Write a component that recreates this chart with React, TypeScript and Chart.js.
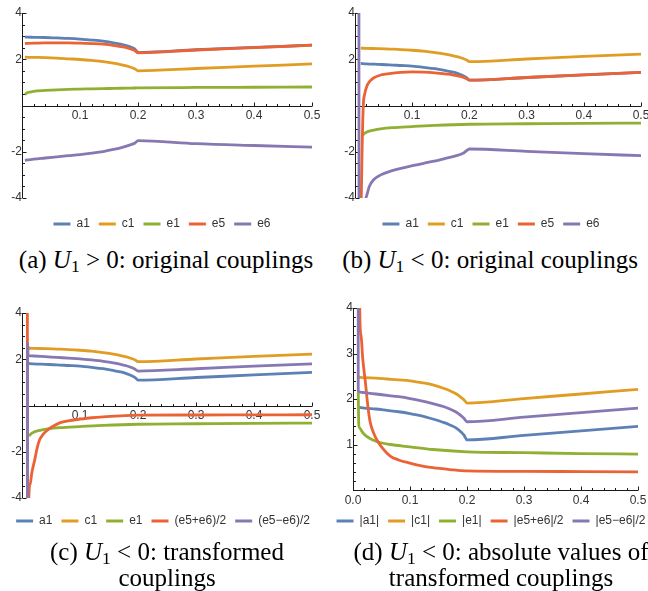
import React, { useEffect, useRef } from 'react';
import { Chart, registerables } from 'chart.js';

Chart.register(...registerables);

// ---------- data ----------
const X_TICKS = [0.1, 0.2, 0.3, 0.4, 0.5];
const X_TICKS_D = [0, 0.1, 0.2, 0.3, 0.4, 0.5];
const Y_TICKS = [-4, -2, 2, 4];
const Y_TICKS_D = [1, 2, 3, 4];

// (a) U1 > 0
const A_X = [0.005, 0.01, 0.02, 0.04, 0.06, 0.08, 0.1, 0.12, 0.14, 0.16, 0.17, 0.18, 0.19, 0.195, 0.2, 0.3, 0.4, 0.5];
const A_A1 = [2.96, 2.955, 2.95, 2.94, 2.92, 2.9, 2.87, 2.83, 2.78, 2.7, 2.65, 2.59, 2.5, 2.43, 2.3, 2.41, 2.51, 2.61];
const A_C1 = [2.09, 2.085, 2.08, 2.07, 2.05, 2.02, 1.99, 1.95, 1.9, 1.82, 1.77, 1.71, 1.63, 1.58, 1.5, 1.6, 1.7, 1.8];
const A_E1 = [0.48, 0.56, 0.61, 0.65, 0.68, 0.7, 0.71, 0.72, 0.73, 0.74, 0.745, 0.75, 0.755, 0.757, 0.76, 0.78, 0.79, 0.8];
const A_E5 = [2.68, 2.69, 2.7, 2.71, 2.71, 2.71, 2.7, 2.68, 2.65, 2.59, 2.55, 2.5, 2.42, 2.37, 2.28, 2.4, 2.5, 2.61];
const A_E6 = [-2.37, -2.355, -2.32, -2.27, -2.22, -2.17, -2.12, -2.06, -1.99, -1.89, -1.83, -1.76, -1.67, -1.62, -1.52, -1.65, -1.73, -1.8];

// (b) U1 < 0
const B_X = [0.01, 0.02, 0.04, 0.06, 0.08, 0.1, 0.12, 0.14, 0.16, 0.17, 0.18, 0.19, 0.195, 0.2, 0.3, 0.4, 0.5];
const B_A1 = [1.82, 1.8, 1.78, 1.76, 1.73, 1.7, 1.65, 1.59, 1.5, 1.45, 1.38, 1.28, 1.21, 1.1, 1.21, 1.32, 1.43];
const B_C1 = [2.48, 2.47, 2.46, 2.44, 2.42, 2.39, 2.35, 2.29, 2.21, 2.16, 2.1, 2.02, 1.97, 1.9, 2.01, 2.12, 2.22];
const B_E1_X = [0.012, 0.015, 0.02, 0.025, 0.033, 0.045, 0.065, 0.1, 0.14, 0.2, 0.3, 0.4, 0.5];
const B_E1 = [-1.32, -1.24, -1.16, -1.11, -1.06, -1.01, -0.96, -0.91, -0.86, -0.81, -0.79, -0.77, -0.76];
const B_E5_X = [0.009, 0.011, 0.0125, 0.0145, 0.017, 0.0215, 0.026, 0.033, 0.045, 0.06, 0.08, 0.1, 0.12, 0.14, 0.16, 0.17, 0.18, 0.19, 0.195, 0.2, 0.3, 0.4, 0.5];
const B_E5 = [-10, -4, -1.8, 0, 0.5, 0.88, 1.05, 1.2, 1.32, 1.38, 1.43, 1.45, 1.44, 1.41, 1.36, 1.33, 1.28, 1.21, 1.16, 1.1, 1.21, 1.32, 1.43];
const B_E6_X = [0.0066, 0.0074, 0.013, 0.019, 0.025, 0.033, 0.045, 0.062, 0.08, 0.097, 0.12, 0.138, 0.16, 0.173, 0.19, 0.2, 0.3, 0.4, 0.5];
const B_E6 = [30, -30, -5.5, -4.0, -3.5, -3.2, -3.0, -2.84, -2.72, -2.62, -2.5, -2.41, -2.28, -2.2, -2.05, -1.88, -1.98, -2.08, -2.17];

// (c) transformed
const C_SUM_X = [0.009, 0.0098, 0.0118, 0.014, 0.017, 0.022, 0.026, 0.03, 0.036, 0.042, 0.05, 0.066, 0.08, 0.1, 0.12, 0.14, 0.17, 0.2, 0.3, 0.4, 0.5];
const C_SUM = [30, -30, -4.0, -3.4, -2.9, -2.34, -1.85, -1.5, -1.26, -1.1, -0.95, -0.74, -0.66, -0.59, -0.53, -0.49, -0.45, -0.42, -0.41, -0.405, -0.4];
const C_DIF_X = [0.009, 0.0097, 0.0105, 0.013, 0.02, 0.04, 0.06, 0.08, 0.1, 0.12, 0.14, 0.16, 0.17, 0.18, 0.19, 0.195, 0.2, 0.3, 0.4, 0.5];
const C_DIF = [-30, 2.7, 2.2, 2.15, 2.14, 2.11, 2.08, 2.05, 2.02, 1.97, 1.91, 1.83, 1.78, 1.72, 1.63, 1.57, 1.49, 1.59, 1.7, 1.8];

// (d) absolute values
const D_X = [0.01, 0.02, 0.04, 0.06, 0.08, 0.1, 0.12, 0.14, 0.16, 0.17, 0.18, 0.19, 0.195, 0.2, 0.3, 0.4, 0.5];
const D_A1 = [1.82, 1.8, 1.78, 1.75, 1.72, 1.68, 1.63, 1.56, 1.48, 1.43, 1.37, 1.27, 1.2, 1.1, 1.2, 1.3, 1.4];
const D_C1 = [2.48, 2.47, 2.46, 2.44, 2.42, 2.4, 2.36, 2.31, 2.23, 2.18, 2.12, 2.03, 1.98, 1.91, 2.01, 2.11, 2.21];
const D_E1_X = [0.0092, 0.0102, 0.012, 0.015, 0.02, 0.025, 0.033, 0.045, 0.065, 0.1, 0.14, 0.2, 0.3, 0.4, 0.5];
const D_E1 = [2.15, 1.42, 1.36, 1.3, 1.22, 1.17, 1.11, 1.05, 1.0, 0.95, 0.89, 0.84, 0.82, 0.8, 0.79];
const D_SUM_X = [0.0095, 0.0118, 0.014, 0.017, 0.022, 0.026, 0.03, 0.036, 0.042, 0.05, 0.066, 0.08, 0.1, 0.12, 0.14, 0.17, 0.2, 0.3, 0.4, 0.5];
const D_SUM = [30, 4.0, 3.4, 2.9, 2.34, 1.85, 1.5, 1.26, 1.1, 0.95, 0.74, 0.66, 0.59, 0.53, 0.49, 0.45, 0.42, 0.41, 0.405, 0.4];
const D_DIF_X = [0.0085, 0.0092, 0.0105, 0.013, 0.02, 0.04, 0.06, 0.08, 0.1, 0.12, 0.14, 0.16, 0.17, 0.18, 0.19, 0.195, 0.2, 0.3, 0.4, 0.5];
const D_DIF = [30, 2.18, 2.16, 2.15, 2.14, 2.11, 2.08, 2.05, 2.01, 1.96, 1.9, 1.83, 1.78, 1.72, 1.63, 1.57, 1.5, 1.6, 1.7, 1.8];

const LABELS_AB = ['a1', 'c1', 'e1', 'e5', 'e6'];
const LABELS_C = ['a1', 'c1', 'e1', '(e5+e6)/2', '(e5\u2212e6)/2'];
const LABELS_D = ['|a1|', '|c1|', '|e1|', '|e5+e6|/2', '|e5\u2212e6|/2'];

// ---------- styles ----------
const BLUE = '#5E81B5';
const ORANGE = '#E19C24';
const GREEN = '#8FB032';
const RED = '#EB6235';
const PURPLE = '#8778B3';
const SANS = "'Liberation Sans', Arial, sans-serif";
const SERIF = "'Liberation Serif', 'Times New Roman', serif";

type Series = { label: string; xs: number[]; ys: number[]; color: string };
type PanelCfg = {
  left: number; top: number; width: number; height: number;
  area: { left: number; top: number; right: number; bottom: number };
  yMin: number; yMax: number;
  xTicks: number[]; yTicks: number[];
  yMinor: number; yMajor: number;
  series: Series[];
  legendOffset: number; // distance from chart bottom to legend centre
  legendShift: number;
};

const LEG_FONT = 12;
const LEG_PAD = 9;

const axesPlugin = {
  id: 'mmaAxes',
  beforeDatasetsDraw(chart: any, _args: any, opts: any) {
    const { ctx, chartArea: a } = chart;
    const xs = chart.scales.x;
    const ys = chart.scales.y;
    const X0 = Math.round(xs.getPixelForValue(0)) + 0.5;
    const Y0 = Math.round(ys.getPixelForValue(0)) + 0.5;
    ctx.save();
    ctx.strokeStyle = '#1a1a1a';
    ctx.lineWidth = 1;
    ctx.beginPath();
    ctx.moveTo(a.left, Y0);
    ctx.lineTo(a.right, Y0);
    ctx.moveTo(X0, a.top);
    ctx.lineTo(X0, a.bottom);
    for (let i = 0; i <= 25; i++) {
      const v = i * 0.02;
      const px = Math.round(xs.getPixelForValue(v)) + 0.5;
      const len = i % 5 === 0 ? 4 : 2.5;
      ctx.moveTo(px, Y0);
      ctx.lineTo(px, Y0 - len);
    }
    const n = Math.round((opts.yMax - opts.yMin) / opts.yMinor);
    for (let i = 0; i <= n; i++) {
      const v = opts.yMin + i * opts.yMinor;
      if (Math.abs(v) < 1e-9) continue;
      const py = Math.round(ys.getPixelForValue(v)) + 0.5;
      const r = v / opts.yMajor;
      const len = Math.abs(r - Math.round(r)) < 1e-6 ? 4 : 2.5;
      ctx.moveTo(X0, py);
      ctx.lineTo(X0 + len, py);
    }
    ctx.stroke();
    ctx.restore();
  },
};

const legendShiftPlugin = {
  id: 'legendShift',
  afterLayout(chart: any, _args: any, opts: any) {
    const lg = chart.legend;
    if (lg && opts.shift) {
      lg.left += opts.shift;
      lg.right += opts.shift;
    }
  },
};

function Panel({ cfg }: { cfg: PanelCfg }) {
  const ref = useRef<HTMLCanvasElement | null>(null);
  useEffect(() => {
    if (!ref.current) return;
    const titleH = cfg.legendOffset - LEG_PAD - LEG_FONT / 2;
    const legendH = LEG_FONT + LEG_PAD + 10 + titleH;
    const padBottom = cfg.height - cfg.area.bottom - legendH;
    const padL = cfg.area.left;
    const padR = cfg.width - cfg.area.right;
    const chart = new Chart(ref.current, {
      type: 'line',
      data: {
        datasets: cfg.series.map((s, i) => ({
          label: s.label,
          data: s.xs.map((x, j) => ({ x, y: s.ys[j] })),
          borderColor: s.color,
          backgroundColor: s.color,
          borderWidth: 2.8,
          pointRadius: 0,
          fill: false,
          order: -i,
          cubicInterpolationMode: 'monotone' as const,
          clip: 0,
        })),
      },
      options: {
        animation: false,
        responsive: false,
        maintainAspectRatio: false,
        events: [],
        layout: {
          padding: { left: 0, top: cfg.area.top, right: 0, bottom: padBottom },
        },
        scales: {
          x: {
            type: 'linear',
            min: 0,
            max: 0.5,
            position: { y: 0 } as any,
            grid: { display: false, drawTicks: false },
            border: { display: false },
            afterBuildTicks: (s: any) => {
              s.ticks = cfg.xTicks.map((v) => ({ value: v }));
            },
            afterFit: (s: any) => {
              s.paddingLeft = padL;
              s.paddingRight = padR;
            },
            ticks: {
              autoSkip: false,
              maxRotation: 0,
              padding: 3,
              color: '#333',
              font: { family: SANS, size: 12 },
              callback: (v: any) => Number(v).toFixed(1),
            },
          },
          y: {
            type: 'linear',
            min: cfg.yMin,
            max: cfg.yMax,
            position: { x: 0 } as any,
            grid: { display: false, drawTicks: false },
            border: { display: false },
            afterBuildTicks: (s: any) => {
              s.ticks = cfg.yTicks.map((v) => ({ value: v }));
            },
            ticks: {
              autoSkip: false,
              padding: 3,
              color: '#333',
              font: { family: SANS, size: 12 },
              callback: (v: any) => String(v),
            },
          },
        },
        plugins: {
          tooltip: { enabled: false },
          legend: {
            position: 'bottom',
            labels: {
              boxWidth: 17,
              boxHeight: 3,
              padding: LEG_PAD,
              color: '#333',
              font: { family: SANS, size: LEG_FONT },
              generateLabels: (c: any) => {
                const items = Chart.defaults.plugins.legend.labels.generateLabels(c);
                items.forEach((it: any) => {
                  it.lineWidth = 0;
                  it.fillStyle = it.strokeStyle;
                });
                items.sort((p: any, q: any) => p.datasetIndex - q.datasetIndex);
                return items;
              },
            },
            title: {
              display: true,
              text: '',
              padding: { top: Math.max(0, titleH - 1.2), bottom: 0 },
              font: { size: 1 },
            },
          },
          mmaAxes: { yMin: cfg.yMin, yMax: cfg.yMax, yMinor: cfg.yMinor, yMajor: cfg.yMajor },
          legendShift: { shift: cfg.legendShift },
        } as any,
      },
      plugins: [axesPlugin, legendShiftPlugin],
    });
    return () => chart.destroy();
  }, [cfg]);
  return (
    <canvas
      ref={ref}
      width={cfg.width}
      height={cfg.height}
      style={{ position: 'absolute', left: cfg.left, top: cfg.top, width: cfg.width, height: cfg.height }}
    />
  );
}

const mk = (labels: string[], xsList: number[][], ysList: number[][]): Series[] => {
  const colors = [BLUE, ORANGE, GREEN, RED, PURPLE];
  return labels.map((label, i) => ({ label, xs: xsList[i], ys: ysList[i], color: colors[i] }));
};

const PANELS: PanelCfg[] = [
  {
    left: 0, top: 0, width: 324, height: 240,
    area: { left: 22, top: 13, right: 312, bottom: 198 },
    yMin: -4, yMax: 4, xTicks: X_TICKS, yTicks: Y_TICKS, yMinor: 0.5, yMajor: 2,
    series: mk(LABELS_AB, [A_X, A_X, A_X, A_X, A_X], [A_A1, A_C1, A_E1, A_E5, A_E6]),
    legendOffset: 26, legendShift: 0,
  },
  {
    left: 324, top: 0, width: 330, height: 240,
    area: { left: 31, top: 13, right: 317, bottom: 198 },
    yMin: -4, yMax: 4, xTicks: X_TICKS, yTicks: Y_TICKS, yMinor: 0.5, yMajor: 2,
    series: mk(LABELS_AB, [B_X, B_X, B_E1_X, B_E5_X, B_E6_X], [B_A1, B_C1, B_E1, B_E5, B_E6]),
    legendOffset: 26, legendShift: 2,
  },
  {
    left: 0, top: 300, width: 324, height: 240,
    area: { left: 22, top: 13, right: 312, bottom: 198 },
    yMin: -4, yMax: 4, xTicks: X_TICKS, yTicks: Y_TICKS, yMinor: 0.5, yMajor: 2,
    series: mk(LABELS_C, [B_X, B_X, B_E1_X, C_SUM_X, C_DIF_X], [B_A1, B_C1, B_E1, C_SUM, C_DIF]),
    legendOffset: 23, legendShift: 1,
  },
  {
    left: 324, top: 295, width: 330, height: 245,
    area: { left: 29, top: 13, right: 314, bottom: 195 },
    yMin: 0, yMax: 4, xTicks: X_TICKS_D, yTicks: Y_TICKS_D, yMinor: 0.2, yMajor: 1,
    series: mk(LABELS_D, [D_X, D_X, D_E1_X, D_SUM_X, D_DIF_X], [D_A1, D_C1, D_E1, D_SUM, D_DIF]),
    legendOffset: 31, legendShift: 2,
  },
];

const capStyle = (center: number, top: number): React.CSSProperties => ({
  position: 'absolute',
  left: center - 200,
  width: 400,
  top,
  textAlign: 'center',
  fontFamily: SERIF,
  fontSize: 25,
  lineHeight: '24px',
  whiteSpace: 'nowrap',
  color: '#000',
});

const Sub = ({ children }: { children: React.ReactNode }) => (
  <span style={{ fontSize: '0.7em', position: 'relative', top: '0.25em' }}>{children}</span>
);

export default function App() {
  return (
    <div
      style={{
        position: 'absolute', left: 0, top: 0, width: 648, height: 591,
        overflow: 'hidden', background: '#fff',
      }}
    >
      {PANELS.map((p, i) => (
        <Panel key={i} cfg={p} />
      ))}
      <div style={capStyle(166, 248)}>
        (a) <i>U</i><Sub>1</Sub> &gt; 0: original couplings
      </div>
      <div style={capStyle(490, 248)}>
        (b) <i>U</i><Sub>1</Sub> &lt; 0: original couplings
      </div>
      <div style={capStyle(167, 540)}>
        (c) <i>U</i><Sub>1</Sub> &lt; 0: transformed
        <br />
        couplings
      </div>
      <div style={capStyle(501, 540)}>
        (d) <i>U</i><Sub>1</Sub> &lt; 0: absolute values of
        <br />
        transformed couplings
      </div>
    </div>
  );
}
